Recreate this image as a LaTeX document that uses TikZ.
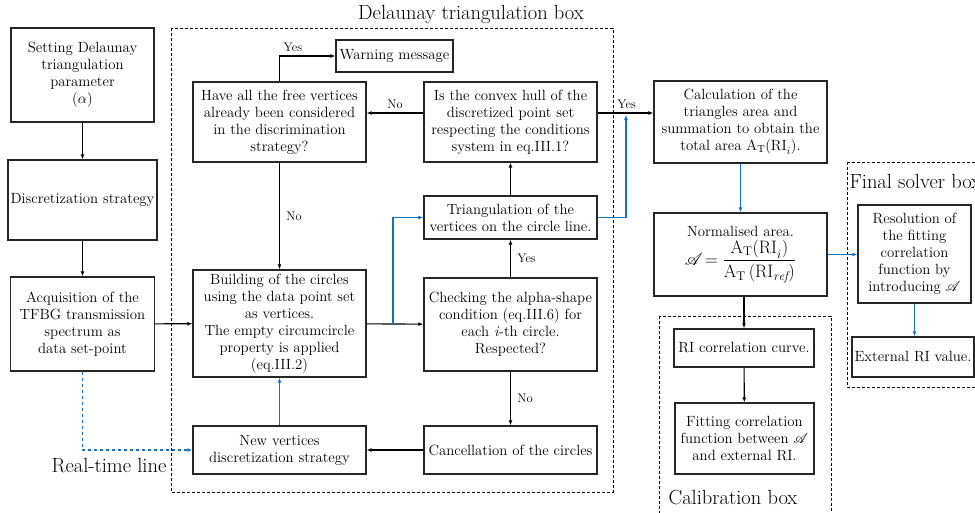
\RequirePackage{fix-cm}
\documentclass[tikz,border=0pt]{standalone}
\usepackage{fontspec}
\usepackage{amsmath, mathrsfs}
\usetikzlibrary{arrows.meta, positioning}
\definecolor{lineblue}{RGB}{20,112,196}

\begin{document}
\begin{tikzpicture}[x=1pt, y=-1pt, font=\fontsize{14.8}{17}\selectfont,
    box/.style={draw=black!85, line width=1.3pt, align=center, inner sep=2pt},
    dbox/.style={draw, dash pattern=on 3pt off 2pt, line width=0.9pt},
    flow/.style={-{Latex[length=5pt,width=4pt]}, line width=1.1pt},
    blue flow/.style={flow, draw=lineblue},
    lbl/.style={font=\fontsize{12.5}{14}\selectfont},
    boxtitle/.style={font=\fontsize{20.5}{24}\selectfont}]
  \useasboundingbox (0,0) rectangle (975,512);

  % frames
  \draw[dbox] (171,28) rectangle (613,492);
  \draw[dbox] (659,316) rectangle (831,520);
  \draw[dbox] (847,162) rectangle (976,387);
  \node[boxtitle] (delbox) at (471,14) {Delaunay triangulation box};
  \node[boxtitle] (rtline) at (109,466) {Real-time line};
  \node[boxtitle] (calbox) at (733,497) {Calibration box};
  \node[boxtitle, anchor=west] (finbox) at (846,181) {Final solver box};

  % left column
  \node[box, minimum width=143pt, minimum height=94pt] (setpar) at (82.5,75)
    {Setting Delaunay\\triangulation\\parameter\\($\alpha$)};
  \node[box, minimum width=149pt, minimum height=80pt] (disc) at (82.5,200)
    {Discretization strategy};
  \node[box, minimum width=144pt, minimum height=94pt] (acq) at (82.5,324)
    {Acquisition of the\\TFBG transmission\\spectrum as\\data set-point};

  % Delaunay triangulation box
  \node[box, minimum width=173pt, minimum height=80pt] (have) at (279.5,122)
    {Have all the free vertices\\already been considered\\in the discrimination\\strategy?};
  \node[box, minimum width=117pt, minimum height=32pt] (warn) at (394.5,56)
    {Warning message};
  \node[box, minimum width=173pt, minimum height=107pt] (build) at (279.5,323.5)
    {Building of the circles\\using the data point set\\as vertices.\\The empty circumcircle\\property is applied\\(eq.III.2)};
  \node[box, minimum width=173pt, minimum height=48pt] (newv) at (279.5,450)
    {New vertices\\discretization strategy};
  \node[box, minimum width=173pt, minimum height=80pt] (hull) at (510.5,122)
    {Is the convex hull of the\\discretized point set\\respecting the conditions\\system in eq.III.1?};
  \node[box, minimum width=173pt, minimum height=43pt] (tri) at (510.5,217.5)
    {Triangulation of the\\vertices on the circle line.};
  \node[box, minimum width=173pt, minimum height=93pt] (check) at (510.5,324.5)
    {Checking the alpha-shape\\condition (eq.III.6) for\\each \textit{i}-th circle.\\Respected?};
  \node[box, minimum width=173pt, minimum height=48pt] (cancel) at (510.5,450)
    {Cancellation of the circles};

  % right part
  \node[box, minimum width=173pt, minimum height=82pt] (calc) at (740.5,122)
    {Calculation of the\\triangles area and\\summation to obtain the\\total area $\mathrm{A_T(RI}_i)$.};
  \node[box, minimum width=173pt, minimum height=83pt] (norm) at (740.5,254.5)
    {Normalised area.\\[2pt]
     {\fontsize{18}{20}\selectfont$\displaystyle\mathscr{A}\!=\frac{\mathrm{A_T(RI}_i)}{\mathrm{A_T}\left(\mathrm{RI}_{\mathit{ref}}\right)}$}};
  \node[box, minimum width=140pt, minimum height=38pt] (ricurve) at (744,348)
    {RI correlation curve.};
  \node[box, minimum width=139pt, minimum height=71pt] (fit) at (744.5,438.5)
    {Fitting correlation\\function between $\mathscr{A}$\\and external RI.};
  \node[box, minimum width=113pt, minimum height=98pt] (resol) at (914.5,254)
    {Resolution of\\the fitting\\correlation\\function by\\introducing $\mathscr{A}$};
  \node[box, minimum width=122pt, minimum height=40pt] (ext) at (913,357)
    {External RI value.};

  \coordinate (split) at (393,323.5);
  \coordinate (join) at (626,115);

  \draw[flow] (setpar.south) -- (setpar.south |- disc.north);
  \draw[flow] (disc.south) -- (disc.south |- acq.north);
  \draw[flow] (acq) -- (build);
  \draw[blue flow, dashed] (acq.south) |- (newv.west);
  \draw[flow] (have.north) |- node[lbl, above, pos=0.62] {Yes} (warn.west);
  \draw[flow] (have) -- node[lbl, right=3pt] {No} (build);
  \draw[flow] ([yshift=9pt]hull.west) -- node[lbl, above] {No} ([yshift=9pt]hull.west -| have.east);
  \draw[flow] (build) -- (check);
  \draw[blue flow] (split) |- (tri.west);
  \draw[flow] (check) -- node[lbl, right=3pt] {Yes} (tri);
  \draw[flow] (tri) -- (hull);
  \draw[flow] (check) -- node[lbl, right=3pt] {No} (cancel);
  \draw[flow] (cancel) -- (newv);
  \draw[blue flow] (newv) -- (build);
  \draw[flow] ([yshift=9pt]hull.east) -- node[lbl, above, pos=0.52] {Yes} ([yshift=9pt]calc.west);
  \draw[blue flow] (tri.east) -| (join);
  \draw[blue flow] (calc) -- (norm);
  \draw[flow] (norm.south -| ricurve.north) -- (ricurve.north);
  \draw[flow] (ricurve) -- (fit);
  \draw[blue flow] (norm.east) -- (norm.east -| resol.west);
  \draw[blue flow] (resol.south) -- (resol.south |- ext.north);
\end{tikzpicture}
\end{document}
